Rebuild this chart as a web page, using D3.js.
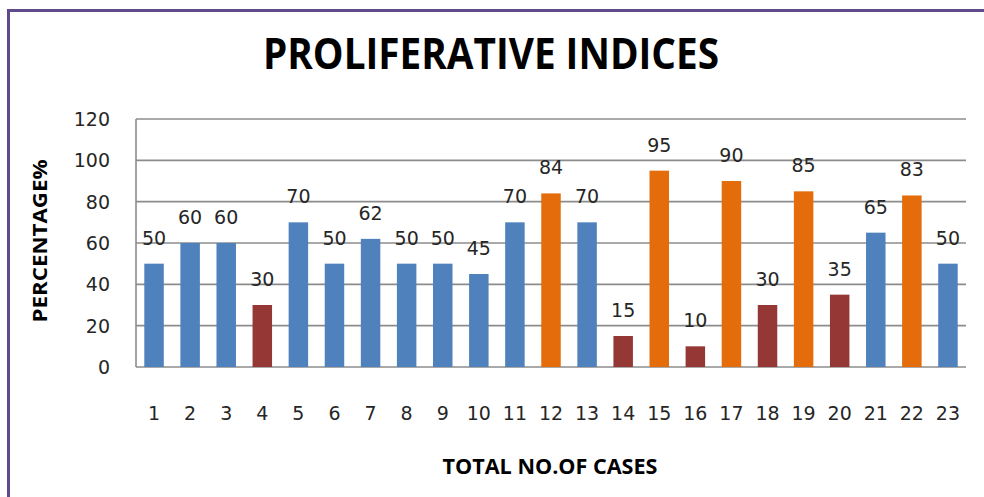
<!DOCTYPE html>
<html lang="en">
<head>
  <meta charset="UTF-8">
  <title>Proliferative Indices</title>
  <script src="https://cdnjs.cloudflare.com/ajax/libs/d3/7.8.5/d3.min.js"></script>
  <style>
    body { margin: 0; background: #fff; }
    .num { font-family: "DejaVu Sans", Verdana, sans-serif; font-size: 19px; fill: #262626; }
    .ttl { font-family: "Liberation Sans Narrow", "Open Sans", Arial, sans-serif; font-weight: bold; fill: #000; }
  </style>
</head>
<body>
  <div id="chart"></div>
  <script>
// chart data
var cases = ["1","2","3","4","5","6","7","8","9","10","11","12","13","14","15","16","17","18","19","20","21","22","23"];
var values = [50,60,60,30,70,50,62,50,50,45,70,84,70,15,95,10,90,30,85,35,65,83,50];
// colour group of each bar as drawn in the original
var groups = ["mid","mid","mid","low","mid","mid","mid","mid","mid","mid","mid","high","mid","low","high","low","high","low","high","low","mid","high","mid"];
var yTicks = [0,20,40,60,80,100,120];

var svgWidth = 984;
var svgHeight = 497;

var colors = { mid: "#4f81bd", low: "#953735", high: "#e46c0a" };

var plot = { left: 136, right: 966, top: 119, bottom: 367 };

var svg = d3.select("#chart")
  .append("svg")
  .attr("width", svgWidth)
  .attr("height", svgHeight);

// purple frame (right and bottom edges fall outside the picture)
svg.append("rect")
  .attr("x", 8.5)
  .attr("y", 10.5)
  .attr("width", 1000)
  .attr("height", 520)
  .attr("fill", "none")
  .attr("stroke", "#5f4b8b")
  .attr("stroke-width", 3);

var data = cases.map(function(c, i) {
  return { label: c, value: values[i], group: groups[i] };
});

var x = d3.scaleBand()
  .domain(cases)
  .range([plot.left, plot.right])
  .paddingInner(0.46)
  .paddingOuter(0.23);

var y = d3.scaleLinear()
  .domain([0, 120])
  .range([plot.bottom, plot.top]);

// horizontal gridlines
svg.append("g")
  .selectAll("line")
  .data(yTicks)
  .enter()
  .append("line")
  .attr("x1", plot.left)
  .attr("x2", plot.right)
  .attr("y1", d => y(d))
  .attr("y2", d => y(d))
  .attr("stroke", "#8c8c8c")
  .attr("stroke-width", 1.6);

// y axis line
svg.append("line")
  .attr("x1", plot.left)
  .attr("x2", plot.left)
  .attr("y1", y(120))
  .attr("y2", y(0))
  .attr("stroke", "#8c8c8c")
  .attr("stroke-width", 1.6);

// y tick labels
svg.append("g")
  .selectAll("text")
  .data(yTicks)
  .enter()
  .append("text")
  .attr("class", "num")
  .attr("x", 110)
  .attr("y", d => y(d))
  .attr("dy", "0.36em")
  .attr("text-anchor", "end")
  .text(d => d);

// bars
svg.append("g")
  .selectAll("rect")
  .data(data)
  .enter()
  .append("rect")
  .attr("x", d => x(d.label))
  .attr("y", d => y(d.value))
  .attr("width", x.bandwidth())
  .attr("height", d => y(0) - y(d.value))
  .attr("fill", d => colors[d.group]);

// value labels
svg.append("g")
  .selectAll("text")
  .data(data)
  .enter()
  .append("text")
  .attr("class", "num")
  .attr("x", d => x(d.label) + x.bandwidth() / 2)
  .attr("y", d => y(d.value) - 19)
  .attr("text-anchor", "middle")
  .text(d => d.value);

// x tick labels
svg.append("g")
  .selectAll("text")
  .data(cases)
  .enter()
  .append("text")
  .attr("class", "num")
  .attr("x", d => x(d) + x.bandwidth() / 2)
  .attr("y", 420)
  .attr("text-anchor", "middle")
  .text(d => d);

// titles
svg.append("text")
  .attr("class", "ttl")
  .attr("x", 491)
  .attr("y", 69)
  .attr("text-anchor", "middle")
  .attr("font-size", 43)
  .attr("textLength", 456)
  .attr("lengthAdjust", "spacingAndGlyphs")
  .text("PROLIFERATIVE INDICES");

svg.append("text")
  .attr("class", "ttl")
  .attr("x", 550)
  .attr("y", 474)
  .attr("text-anchor", "middle")
  .attr("font-size", 21)
  .attr("textLength", 215)
  .attr("lengthAdjust", "spacingAndGlyphs")
  .text("TOTAL NO.OF CASES");

svg.append("text")
  .attr("class", "ttl")
  .attr("transform", "translate(47, 241) rotate(-90)")
  .attr("text-anchor", "middle")
  .attr("font-size", 20)
  .attr("textLength", 163)
  .attr("lengthAdjust", "spacingAndGlyphs")
  .text("PERCENTAGE%");
  </script>
</body>
</html>
